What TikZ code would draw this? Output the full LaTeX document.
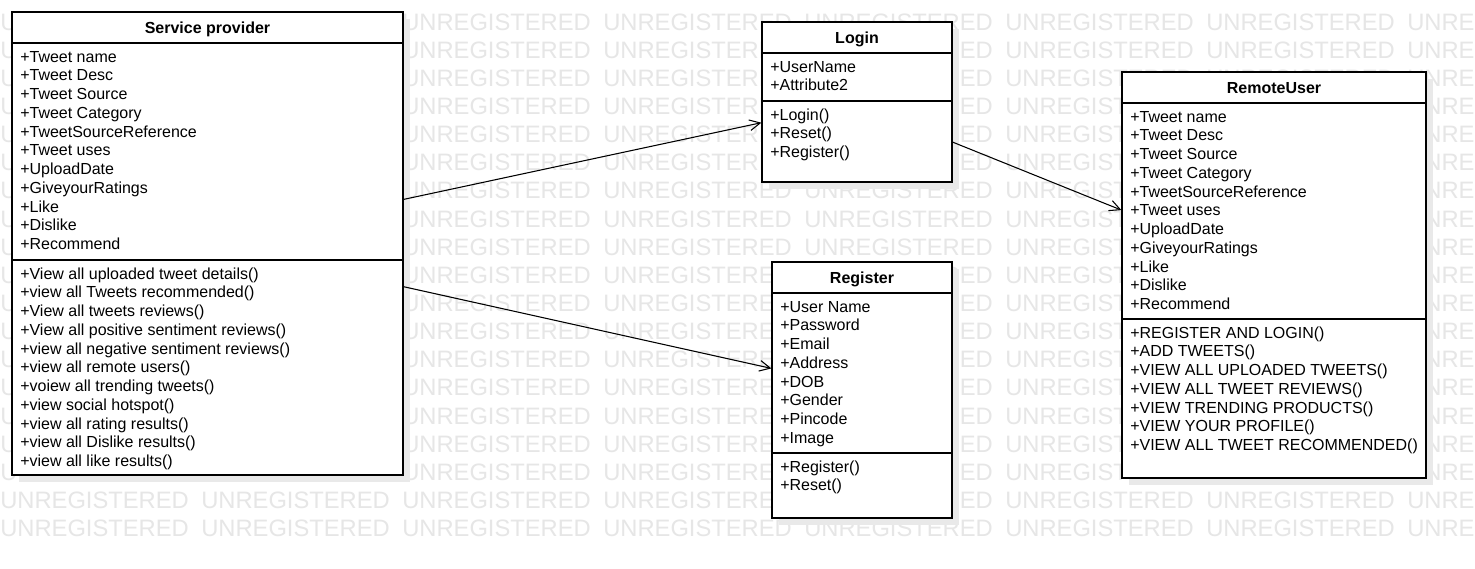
\documentclass[tikz,border=0pt]{standalone}
\usepackage{fontspec}
\setmainfont{Liberation Sans}
\usetikzlibrary{arrows.meta,fit}
\definecolor{wmgray}{HTML}{E6E6E6}
\definecolor{shadowgray}{HTML}{E9E9E9}
\tikzset{
  x=0.75pt, y=-0.75pt,
  wm/.style={text=wmgray, font=\fontsize{17.8}{20}\selectfont, anchor=base west, inner sep=0pt},
  classbox/.style={draw=black, fill=white, line width=0.9pt, inner sep=0pt},
  member/.style={anchor=base west, inner sep=0pt, font=\fontsize{12}{14}\selectfont},
  ctitle/.style={anchor=base, inner sep=0pt, font=\fontsize{12}{14}\selectfont\bfseries},
  rulebar/.style={line width=0.9pt},
  assoc/.style={line width=0.8pt, -{Straight Barb[length=8pt,width=8pt]}},
}
\newcommand\umlclass[9]{%
  \fill[shadowgray] (#2+7,#3+7) rectangle (#4+7,#5+7);
  \node[classbox, fit={(#2,#3) (#4,#5)}] (#1) {};
  \node[ctitle] (#1-t) at ({(#2+#4)/2},#3+21) {#6};
  \draw[rulebar] (#2,#3+31) -- (#4,#3+31);
  \draw[rulebar] (#2,#7) -- (#4,#7);
  \foreach \t [count=\i from 0] in {#8} \node[member] (#1-a\i) at (#2+8,#3+50+\i*18.75) {\t};
  \foreach \t [count=\i from 0] in {#9} \node[member] (#1-o\i) at (#2+8,#7+19+\i*18.75) {\t};
}
\begin{document}
\begin{tikzpicture}
\useasboundingbox (0,0) rectangle (1475,568);
\fill[white] (0,0) rectangle (1475,568);
\begin{scope}
  \clip (0,0) rectangle (1475,568);
  \foreach \r in {0,...,18}
    \foreach \c in {0,...,7}
      \node[wm] (wm-\r-\c) at (\c*201,30+\r*28.15) {UNREGISTERED};
\end{scope}

\umlclass{sp}{12}{12}{403}{475}{Service provider}{260}%
  {+Tweet name,+Tweet Desc,+Tweet Source,+Tweet Category,+TweetSourceReference,+Tweet uses,+UploadDate,+GiveyourRatings,+Like,+Dislike,+Recommend}%
  {+View all uploaded tweet details(),+view all Tweets recommended(),+View all tweets reviews(),+View all positive sentiment reviews(),+view all negative sentiment reviews(),+view all remote users(),+voiew all trending tweets(),+view social hotspot(),+view all rating results(),+view all Dislike results(),+view all like results()}

\umlclass{login}{762}{22}{952}{182}{Login}{101}%
  {+UserName,+Attribute2}%
  {+Login(),+Reset(),+Register()}

\umlclass{reg}{772}{262}{952}{518}{Register}{453}%
  {+User Name,+Password,+Email,+Address,+DOB,+Gender,+Pincode,+Image}%
  {+Register(),+Reset()}

\umlclass{ru}{1122}{72}{1426}{478}{RemoteUser}{319}%
  {+Tweet name,+Tweet Desc,+Tweet Source,+Tweet Category,+TweetSourceReference,+Tweet uses,+UploadDate,+GiveyourRatings,+Like,+Dislike,+Recommend}%
  {+REGISTER AND LOGIN(),+ADD TWEETS(),+VIEW ALL UPLOADED TWEETS(),+VIEW ALL TWEET REVIEWS(),+VIEW TRENDING PRODUCTS(),+VIEW YOUR PROFILE(),+VIEW ALL TWEET RECOMMENDED()}

\path (sp.north east) ++(0,188) coordinate (e1s);
\path (login.north west) ++(0,101.3) coordinate (e1t);
\path (login.north east) ++(0,120.7) coordinate (e2s);
\path (ru.north west) ++(0,138.7) coordinate (e2t);
\path (sp.north east) ++(0,275.3) coordinate (e3s);
\path (reg.north west) ++(0,107) coordinate (e3t);

\draw[assoc] (e1s) -- (e1t);
\draw[assoc] (e2s) -- (e2t);
\draw[assoc] (e3s) -- (e3t);
\end{tikzpicture}
\end{document}
